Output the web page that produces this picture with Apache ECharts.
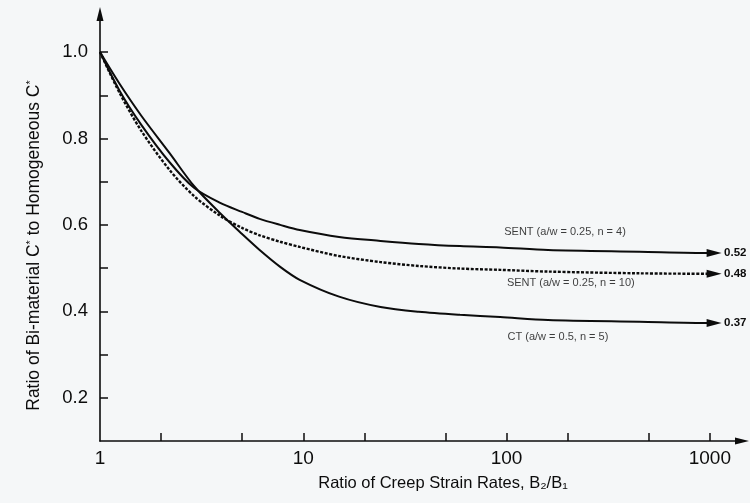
<!DOCTYPE html>
<html>
<head>
<meta charset="utf-8">
<script src="https://cdn.jsdelivr.net/npm/echarts@6/dist/echarts.min.js"></script>
<style>
  html, body { margin: 0; padding: 0; background: #f5f7f8; }
  #chart { width: 750px; height: 503px; }
</style>
</head>
<body>
<div id="chart"></div>
<script>
// Ratio of creep strain rates (B2/B1)
const ratios = [1, 1.25, 1.6, 2.2, 2.9, 3.9, 5, 6.1, 7.7, 9.6, 15, 24, 37, 59, 93, 160, 450, 1000, 1050];
// Ratio of bi-material C* to homogeneous C*
const sentN4  = [1.0, 0.910, 0.831, 0.745, 0.686, 0.651, 0.630, 0.614, 0.600, 0.588, 0.572, 0.563, 0.556, 0.551, 0.548, 0.542, 0.538, 0.535, 0.535];
const sentN10 = [1.0, 0.905, 0.817, 0.727, 0.667, 0.621, 0.593, 0.576, 0.561, 0.549, 0.528, 0.514, 0.505, 0.499, 0.496, 0.492, 0.488, 0.487, 0.487];
const ctN5    = [1.0, 0.926, 0.852, 0.766, 0.690, 0.627, 0.579, 0.542, 0.503, 0.473, 0.434, 0.410, 0.399, 0.392, 0.387, 0.380, 0.376, 0.373, 0.373];

const seriesNames = ['SENT (a/w = 0.25, n = 4)', 'SENT (a/w = 0.25, n = 10)', 'CT (a/w = 0.5, n = 5)'];
const endLabels = ['0.52', '0.48', '0.37'];
// where each curve's caption sits (data coordinates)
const captionX = [194, 207, 179];
const captionY = [0.584, 0.466, 0.341];

const xTicks = [2, 5, 10, 20, 50, 100, 200, 500, 1000];
const xLabels = [1, 10, 100, 1000];
const yTicks = [0.2, 0.3, 0.4, 0.5, 0.6, 0.7, 0.8, 0.9, 1.0];
const yLabels = [0.2, 0.4, 0.6, 0.8, 1.0];

const FONT = '"Liberation Sans", Arial, Helvetica, sans-serif';
const INK = '#0c0c0c';

function buildData(vals) {
  return ratios.map((r, i) => {
    if (i === ratios.length - 1) {
      return { value: [r, vals[i]], symbol: 'triangle', symbolSize: [8, 15], symbolRotate: -90 };
    }
    return { value: [r, vals[i]], symbol: 'none' };
  });
}

const curves = [sentN4, sentN10, ctN5];
const lineTypes = ['solid', [3, 1.6], 'solid'];
const lineWidths = [2, 2.4, 2];

const series = curves.map((vals, k) => ({
  name: seriesNames[k],
  type: 'line',
  data: buildData(vals),
  smooth: 0.3,
  showSymbol: true,
  symbol: 'none',
  itemStyle: { color: INK },
  lineStyle: { color: INK, width: lineWidths[k], type: lineTypes[k] },
  endLabel: {
    show: true,
    formatter: () => endLabels[k],
    distance: 10,
    color: INK,
    fontFamily: FONT,
    fontSize: 11.5,
    fontWeight: 'bold'
  },
  animation: false,
  z: 3
}));

series.push({
  type: 'scatter',
  data: seriesNames.map((n, k) => [captionX[k], captionY[k], n]),
  symbolSize: 1,
  itemStyle: { color: 'rgba(0,0,0,0)' },
  label: {
    show: true,
    position: 'inside',
    formatter: p => p.data[2],
    color: INK,
    fontFamily: FONT,
    fontSize: 11
  },
  animation: false,
  silent: true
});

const chart = echarts.init(document.getElementById('chart'), null, { renderer: 'canvas' });
chart.setOption({
  backgroundColor: '#f5f7f8',
  animation: false,
  grid: { left: 100, right: 8, top: 14, bottom: 62 },
  xAxis: {
    type: 'log',
    logBase: 10,
    min: 1,
    max: 1440,
    name: 'Ratio of Creep Strain Rates, B₂/B₁',
    nameLocation: 'middle',
    nameGap: 34,
    nameTextStyle: { color: INK, fontFamily: FONT, fontSize: 16.5, padding: [0, 0, 0, 44] },
    axisLine: { lineStyle: { color: INK, width: 1.6 }, symbol: ['none', 'triangle'], symbolSize: [7, 14] },
    axisTick: { show: true, inside: true, length: 8, lineStyle: { color: INK, width: 1.5 }, customValues: xTicks },
    axisLabel: { color: INK, fontFamily: FONT, fontSize: 19, margin: 8, customValues: xLabels, formatter: v => String(Math.round(v)) },
    splitLine: { show: false },
    minorTick: { show: false }
  },
  yAxis: {
    type: 'value',
    min: 0.1,
    max: 1.088,
    name: 'Ratio of Bi-material C{sup|*} to Homogeneous C{sup|*}',
    nameLocation: 'middle',
    nameGap: 56,
    nameRotate: 90,
    nameTextStyle: {
      color: INK, fontFamily: FONT, fontSize: 17.5, padding: [0, 36, 0, 0],
      rich: { sup: { fontSize: 11, fontFamily: FONT, color: INK, verticalAlign: 'top', padding: [0, 0, 8, 0] } }
    },
    axisLine: { show: true, lineStyle: { color: INK, width: 1.6 }, symbol: ['none', 'triangle'], symbolSize: [7, 14] },
    axisTick: { show: true, inside: true, length: 8, lineStyle: { color: INK, width: 1.5 }, customValues: yTicks },
    axisLabel: { color: INK, fontFamily: FONT, fontSize: 18.5, margin: 12, customValues: yLabels, formatter: v => v.toFixed(1) },
    splitLine: { show: false }
  },
  series: series
});
</script>
</body>
</html>
